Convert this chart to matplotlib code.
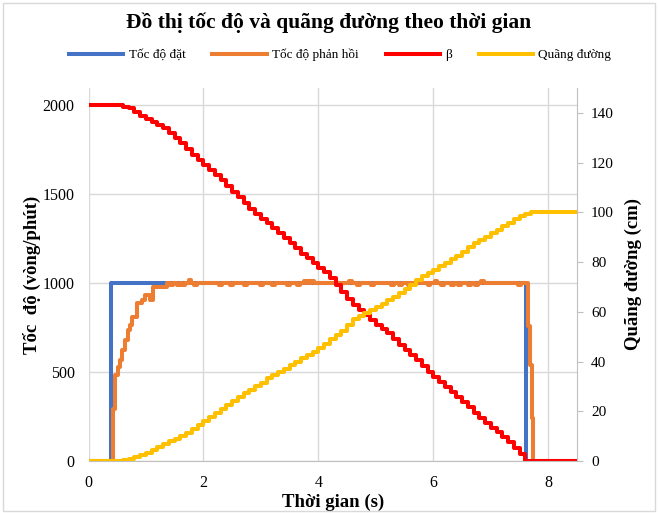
import matplotlib

matplotlib.use("Agg")
import matplotlib.pyplot as plt
from matplotlib.patches import Rectangle

plt.rcParams["font.family"] = ["Liberation Serif", "DejaVu Serif"]

# Du lieu doc tu do thi
t_set = [0, 0.4, 7.62, 8.5]
v_set = [0, 1000, 0, 0]

# toc do phan hoi: doan tang, dao dong quanh 1000, doan giam
t_rise = [0, 0.43, 0.46, 0.52, 0.55, 0.58, 0.64, 0.68, 0.72, 0.75, 0.84,
          0.93, 0.99, 1.07, 1.12, 1.36]
v_rise = [0, 290, 483, 530, 567, 624, 680, 736, 764, 811, 886,
          904, 933, 904, 979, 1000]
t_ripple = [1.42, 1.54, 1.63, 1.74, 1.83, 2.27, 2.47, 2.70, 2.99, 3.20,
            3.46, 3.63, 3.75, 3.81, 3.87, 4.53, 4.68, 4.91, 5.26, 5.41,
            5.55, 5.73, 5.90, 6.02, 6.13, 6.31, 6.43, 6.60, 6.72, 6.83, 7.47]
v_ripple = [988, 988, 988, 1014, 988, 988, 988, 988, 988, 988,
            988, 988, 1012, 1012, 1012, 1012, 988, 988, 988, 988,
            988, 1012, 988, 1012, 988, 988, 988, 988, 988, 1012, 988]
t_fall = [7.62, 7.65, 7.68, 7.71, 7.74, 8.5]
v_fall = [1000, 760, 540, 242, 0, 0]

t = [0.0, 0.1, 0.2, 0.3, 0.4, 0.5, 0.6, 0.7, 0.8, 0.9,
     1.0, 1.1, 1.2, 1.3, 1.4, 1.5, 1.6, 1.7, 1.8, 1.9,
     2.0, 2.1, 2.2, 2.3, 2.4, 2.5, 2.6, 2.7, 2.8, 2.9,
     3.0, 3.1, 3.2, 3.3, 3.4, 3.5, 3.6, 3.7, 3.8, 3.9,
     4.0, 4.1, 4.2, 4.3, 4.4, 4.5, 4.6, 4.7, 4.8, 4.9,
     5.0, 5.1, 5.2, 5.3, 5.4, 5.5, 5.6, 5.7, 5.8, 5.9,
     6.0, 6.1, 6.2, 6.3, 6.4, 6.5, 6.6, 6.7, 6.8, 6.9,
     7.0, 7.1, 7.2, 7.3, 7.4, 7.5, 7.6, 7.7, 7.8, 7.9,
     8.0, 8.1, 8.2, 8.3, 8.4, 8.5]
beta = [2000, 2000, 2000, 2000, 2000, 2000, 1990, 1981, 1960, 1940,
        1922, 1906, 1888, 1868, 1843, 1815, 1785, 1752, 1719, 1690,
        1662, 1634, 1607, 1579, 1546, 1513, 1480, 1448, 1418, 1390,
        1361, 1334, 1307, 1279, 1251, 1222, 1194, 1165, 1138, 1110,
        1085, 1060, 1025, 990, 950, 908, 878, 850, 822, 794,
        766, 741, 717, 685, 654, 625, 597, 567, 535, 502,
        474, 446, 418, 390, 362, 334, 305, 272, 240, 213,
        188, 163, 136, 108, 75, 42, 0, 0, 0, 0,
        0, 0, 0, 0, 0, 0]
dist = [0, 0, 0, 0, 0, 0, 0.3, 0.8, 1.5, 2.3,
        3.3, 4.4, 5.5, 6.7, 7.9, 9.0, 10.2, 11.4, 12.8, 14.4,
        16.0, 17.7, 19.4, 21.0, 22.6, 24.2, 25.8, 27.2, 28.6, 30.0,
        31.5, 33.2, 34.6, 35.8, 37.0, 38.4, 40.0, 41.5, 42.8, 44.0,
        45.5, 47.2, 48.9, 50.5, 52.4, 54.8, 57.0, 58.4, 59.6, 60.7,
        62.0, 63.3, 64.7, 66.0, 67.5, 69.0, 70.8, 72.6, 74.2, 75.6,
        77.0, 78.4, 79.7, 81.1, 82.6, 84.2, 85.9, 87.5, 88.9, 90.2,
        91.5, 92.9, 94.3, 95.8, 97.2, 98.5, 99.5, 100, 100, 100,
        100, 100, 100, 100, 100, 100]

# ghep toc do phan hoi (moi dao dong keo dai ~0.05 s roi tro ve 1000)
t_fb = list(t_rise)
v_fb = list(v_rise)
for tr, vr in zip(t_ripple, v_ripple):
    t_fb += [tr, tr + 0.05]
    v_fb += [vr, 1000]
t_fb += t_fall
v_fb += v_fall

GRID = "#d9d9d9"
AXIS = "#bfbfbf"

fig = plt.figure(figsize=(6.58, 5.13), dpi=100)
fig.patches.append(Rectangle((0.004, 0.004), 0.992, 0.99, transform=fig.transFigure,
                             fill=False, edgecolor=GRID, lw=1))
ax = fig.add_axes([0.1345, 0.1014, 0.7425, 0.7271])
ax2 = ax.twinx()

lw = 2.9
l1, = ax.plot(t_set, v_set, drawstyle="steps-post", color="#4472C4", lw=lw)
l2, = ax.plot(t_fb, v_fb, drawstyle="steps-post", color="#ED7D31", lw=lw)
l3, = ax.plot(t, beta, drawstyle="steps-post", color="#FF0000", lw=lw)
l4, = ax2.plot(t, dist, drawstyle="steps-post", color="#FFC000", lw=lw)

ax.set_xlim(0, 8.5)
ax.set_ylim(0, 2095)
ax2.set_ylim(0, 150)
ax.set_xticks([0, 2, 4, 6, 8])
ax.set_yticks([0, 500, 1000, 1500, 2000])
ax2.set_yticks([0, 20, 40, 60, 80, 100, 120, 140])

ax.grid(True, color=GRID, lw=1)
ax.set_axisbelow(True)
for s in ["top", "left", "right"]:
    ax.spines[s].set_visible(False)
ax.spines["bottom"].set_color(AXIS)
for s in ["top", "left", "bottom"]:
    ax2.spines[s].set_visible(False)
ax2.spines["right"].set_color(AXIS)

ax.tick_params(axis="both", length=0, labelsize=11.5, pad=10)
ax2.tick_params(axis="y", length=4, color=AXIS, labelsize=11, pad=6)

ax.set_xlabel("Thời gian (s)", fontsize=13.5, fontweight="bold", labelpad=2)
ax.set_ylabel("Tốc  độ (vòng/phút)", fontsize=13.5, fontweight="bold", labelpad=1)
ax2.set_ylabel("Quãng đường (cm)", fontsize=13.5, fontweight="bold", labelpad=8)

fig.suptitle("Đồ thị tốc độ và quãng đường theo thời gian", fontsize=15.5,
             fontweight="bold", y=0.975)
fig.legend([l1, l2, l3, l4], ["Tốc độ đặt", "Tốc độ phản hồi", "β", "Quãng đường"],
           loc="center", bbox_to_anchor=(0.517, 0.893), ncol=4, frameon=False,
           fontsize=9.5, handlelength=4.1, columnspacing=2.05, handletextpad=0.4)

fig.savefig("out.png", dpi=100)
